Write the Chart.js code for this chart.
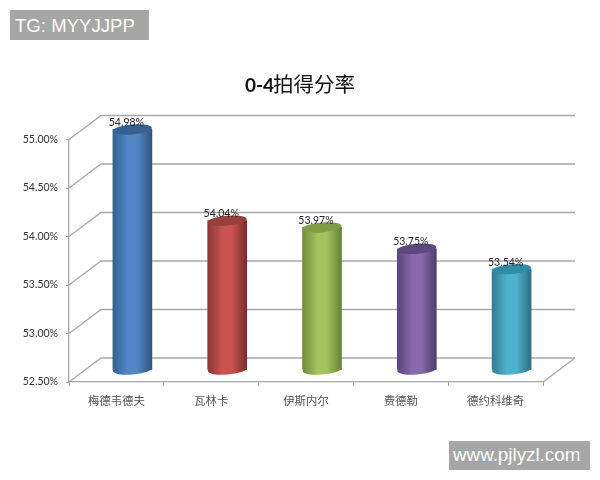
<!DOCTYPE html>
<html>
<head>
<meta charset="utf-8">
<style>
    html, body { margin: 0; padding: 0; background: #fff; }
    #wrap { position: relative; width: 600px; height: 480px; overflow: hidden; }
    canvas { position: absolute; left: 0; top: 0; }
    .mark { position: absolute; background: #a6a6a6; color: #fff; font-family: "Liberation Sans", sans-serif; white-space: nowrap; }
    #tg { left: 10px; top: 10px; width: 139px; height: 30px; line-height: 31px; font-size: 18.6px; text-indent: 5px; }
    #site { left: 449px; top: 441px; width: 141px; height: 29px; line-height: 28px; font-size: 18.8px; text-indent: 4px; }
</style>
<script src="https://cdn.jsdelivr.net/npm/chart.js@4/dist/chart.umd.min.js"></script>
</head>
<body>
<div id="wrap">
    <canvas id="graph" width="600" height="480"></canvas>
    <div class="mark" id="tg">TG: MYYJJPP</div>
    <div class="mark" id="site">www.pjlyzl.com</div>
</div>
<script>
    const players = ['梅德韦德夫', '瓦林卡', '伊斯内尔', '费德勒', '德约科维奇'];
    const winRates = [54.98, 54.04, 53.97, 53.75, 53.54];
    const axisMin = 52.5;
    const axisMax = 55;
    const titleBold = '0-4';
    const titleRest = '拍得分率';

    // [left edge, middle, right edge, cap]
    const barShades = [
        ['#33608f', '#5287c6', '#2f5380', '#37618f'],
        ['#8a3633', '#c95350', '#772e2c', '#97403d'],
        ['#728c3c', '#a2c35d', '#688138', '#7f9c45'],
        ['#5a4577', '#8869ab', '#503c6b', '#5f4880'],
        ['#2f7c91', '#4eb2cd', '#2b6f83', '#338ca5']
    ];

    const depthX = 32, depthY = -24; // offset from the front plane to the back wall
    const gridColor = '#a8a8a8';
    const capRx = 19.5, capRy = 5, capTilt = -0.08;

    function ellipse(ctx, x, y, fill) {
        ctx.fillStyle = fill;
        ctx.beginPath();
        ctx.ellipse(x, y, capRx, capRy, capTilt, 0, Math.PI * 2);
        ctx.fill();
    }

    function barGradient(ctx, x, shades) {
        let g = ctx.createLinearGradient(x - capRx, 0, x + capRx, 0);
        g.addColorStop(0, shades[0]);
        g.addColorStop(0.38, shades[1]);
        g.addColorStop(0.62, shades[1]);
        g.addColorStop(1, shades[2]);
        return g;
    }

    // back wall, floor and the diagonals, taken from the scales
    const wallPlugin = {
        id: 'wall',
        beforeDatasetsDraw(chart) {
            let ctx = chart.ctx, y = chart.scales.y, area = chart.chartArea;
            ctx.save();
            ctx.strokeStyle = gridColor;
            ctx.lineWidth = 1.3;
            y.ticks.forEach(function (tick) {
                let py = y.getPixelForValue(tick.value);
                ctx.beginPath();
                ctx.moveTo(area.left, py);
                ctx.lineTo(area.left + depthX, py + depthY);
                ctx.lineTo(area.right + depthX, py + depthY);
                ctx.stroke();
            });
            ctx.beginPath();
            ctx.moveTo(area.right, area.bottom);
            ctx.lineTo(area.right + depthX, area.bottom + depthY);
            ctx.stroke();
            ctx.restore();
        }
    };

    // bars sit halfway into the depth, with elliptical ends
    const cylinderPlugin = {
        id: 'cylinder',
        beforeDatasetDraw(chart) {
            let ctx = chart.ctx;
            ctx.save();
            ctx.translate(depthX / 2, depthY / 2);
            chart.getDatasetMeta(0).data.forEach(function (bar, i) {
                ellipse(ctx, bar.x, bar.base, barGradient(ctx, bar.x, barShades[i]));
            });
        },
        afterDatasetDraw(chart) {
            let ctx = chart.ctx;
            chart.getDatasetMeta(0).data.forEach(function (bar, i) {
                ellipse(ctx, bar.x, bar.y, barShades[i][3]);
            });
            ctx.restore();

            ctx.save();
            ctx.fillStyle = '#262626';
            ctx.font = '10.5px Lato';
            ctx.textAlign = 'center';
            ctx.textBaseline = 'middle';
            chart.getDatasetMeta(0).data.forEach(function (bar, i) {
                ctx.fillText(winRates[i].toFixed(2) + '%', bar.x + depthX / 2 - 6, bar.y + depthY / 2 - 7);
            });
            ctx.restore();
        }
    };

    const titlePlugin = {
        id: 'mixedTitle',
        afterDraw(chart) {
            let ctx = chart.ctx;
            ctx.save();
            ctx.fillStyle = '#111';
            ctx.textBaseline = 'alphabetic';
            ctx.textAlign = 'left';
            ctx.font = 'bold 19px Lato';
            ctx.fillText(titleBold, 245, 92);
            ctx.font = '20.5px "Noto Sans CJK SC"';
            ctx.fillText(titleRest, 273, 92);
            ctx.restore();
        }
    };

    new Chart(document.getElementById('graph').getContext('2d'), {
        type: 'bar',
        data: {
            labels: players,
            datasets: [{
                data: winRates,
                base: axisMin,
                barThickness: 39,
                clip: false,
                borderWidth: 0,
                backgroundColor: function (c) {
                    let x = c.chart.scales.x;
                    if (!x || !c.chart.chartArea) return barShades[c.dataIndex][1];
                    return barGradient(c.chart.ctx, x.getPixelForValue(c.dataIndex), barShades[c.dataIndex]);
                }
            }]
        },
        options: {
            responsive: false,
            animation: false,
            devicePixelRatio: 1,
            layout: {padding: {left: 0, right: 57, top: 139.5, bottom: 58}},
            plugins: {legend: {display: false}, title: {display: false}, tooltip: {enabled: false}},
            scales: {
                x: {
                    afterFit: function (s) { s.height = 40; },
                    border: {color: gridColor, width: 1.3},
                    grid: {drawOnChartArea: false, color: gridColor, tickLength: 4},
                    ticks: {color: '#555', padding: 8, font: {family: '"Noto Sans CJK SC"', size: 11.4}, maxRotation: 0}
                },
                y: {
                    min: axisMin,
                    max: axisMax,
                    afterFit: function (s) { s.width = 69; },
                    border: {color: gridColor, width: 1.3},
                    grid: {drawOnChartArea: false, color: gridColor, tickLength: 3},
                    ticks: {
                        stepSize: 0.5,
                        color: '#333',
                        padding: 8,
                        font: {family: 'Lato', size: 10.5},
                        callback: function (v) { return v.toFixed(2) + '%'; }
                    }
                }
            }
        },
        plugins: [wallPlugin, cylinderPlugin, titlePlugin]
    });
</script>
</body>
</html>
